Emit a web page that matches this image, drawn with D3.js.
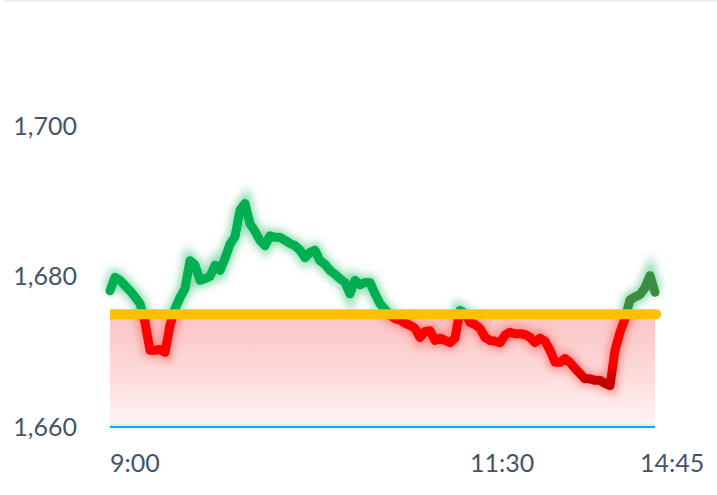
<!DOCTYPE html>
<html><head><meta charset="utf-8">
<script src="https://cdn.jsdelivr.net/npm/d3@7"></script>
<style>html,body{margin:0;padding:0;background:#fff;}svg{display:block;}</style>
</head><body>
<svg id="chart" width="717" height="495"></svg>
<script>
// ---- data ----
const prices = [1678.1,1679.9,1679.5,1678.8,1678.1,1677.3,1676.4,1673.9,1670.2,1670.2,
1670.3,1669.9,1673.5,1675.7,1677.2,1678.4,1682.1,1681.5,1679.5,1679.7,
1680.0,1681.5,1680.8,1682.4,1684.3,1685.3,1688.8,1689.7,1687.0,1686.0,
1684.8,1684.1,1685.4,1685.2,1685.2,1684.8,1684.4,1684.1,1683.5,1682.5,
1683.2,1683.5,1682.1,1681.6,1680.8,1680.3,1679.7,1679.2,1677.7,1679.5,
1678.9,1679.2,1679.2,1677.7,1676.4,1675.6,1674.9,1674.4,1674.2,1673.8,
1673.5,1673.1,1671.9,1672.7,1672.8,1671.5,1671.8,1671.5,1671.2,1671.8,
1675.5,1675.1,1673.9,1673.6,1673.1,1671.9,1671.5,1671.4,1671.2,1672.2,
1672.6,1672.4,1672.4,1672.3,1671.9,1671.2,1671.8,1671.4,1670.2,1668.6,
1668.6,1669.1,1668.6,1667.8,1667.1,1666.4,1666.4,1666.2,1666.2,1665.8,
1665.5,1670.2,1672.6,1674.4,1676.9,1677.3,1677.6,1678.5,1680.1,1677.9];
const referencePrice = 1675;
const yTicks = [1660, 1680, 1700];
const xTickLabels = ["9:00", "11:30", "14:45"];
const xTickIndex = [0, 72, 106];

// ---- layout ----
const svg = d3.select("#chart");
const left = 110, right = 655, yTop = 126, yBottom = 427;
const x = d3.scaleLinear().domain([0, prices.length - 1]).range([left, right]);
const y = d3.scaleLinear().domain([1660, 1700]).range([yBottom, yTop]);
const fmt = d3.format(",");

const defs = svg.append("defs");
const fillGrad = defs.append("linearGradient").attr("id","fillGrad")
  .attr("x1",0).attr("y1",0).attr("x2",0).attr("y2",1);
fillGrad.append("stop").attr("offset","0%").attr("stop-color","#fac4c4");
fillGrad.append("stop").attr("offset","55%").attr("stop-color","#fcdcdb");
fillGrad.append("stop").attr("offset","100%").attr("stop-color","#fef6f5");

const redGrad = defs.append("linearGradient").attr("id","redGrad")
  .attr("gradientUnits","userSpaceOnUse").attr("x1",0).attr("x2",0)
  .attr("y1", y(1668.5)).attr("y2", y(1665.8));
redGrad.append("stop").attr("offset","0%").attr("stop-color","#ff0000");
redGrad.append("stop").attr("offset","100%").attr("stop-color","#c00000");

const greenGrad = defs.append("linearGradient").attr("id","greenGrad")
  .attr("gradientUnits","userSpaceOnUse").attr("y1",0).attr("y2",0)
  .attr("x1", x(101)).attr("x2", x(103));
greenGrad.append("stop").attr("offset","0%").attr("stop-color","#00b050");
greenGrad.append("stop").attr("offset","100%").attr("stop-color","#3c8d40");

const blur = defs.append("filter").attr("id","glow")
  .attr("x","-20%").attr("y","-20%").attr("width","140%").attr("height","140%");
blur.append("feGaussianBlur").attr("stdDeviation",4.5);
const blur2 = defs.append("filter").attr("id","glow2")
  .attr("x","-5%").attr("y","-300%").attr("width","110%").attr("height","700%");
blur2.append("feGaussianBlur").attr("stdDeviation",3.5);

defs.append("clipPath").attr("id","above").append("rect")
  .attr("x",0).attr("y",0).attr("width",717).attr("height",y(referencePrice));
defs.append("clipPath").attr("id","below").append("rect")
  .attr("x",0).attr("y",y(referencePrice)).attr("width",717).attr("height",495);

// top border
svg.append("rect").attr("x",4).attr("y",0).attr("width",713).attr("height",2).attr("fill","#eeeeee");

// fill under reference
svg.append("rect").attr("x",left).attr("y",y(referencePrice))
  .attr("width",right-left).attr("height",y(1660)-y(referencePrice))
  .attr("fill","url(#fillGrad)");

// baseline
svg.append("line").attr("x1",left).attr("x2",right).attr("y1",y(1660)-2).attr("y2",y(1660)-2)
  .attr("stroke","#e4e4e4").attr("stroke-width",1.5);
svg.append("line").attr("x1",left).attr("x2",right).attr("y1",y(1660)).attr("y2",y(1660))
  .attr("stroke","#00b0f0").attr("stroke-width",2);

// line
const line = d3.line().x((d,i)=>x(i)).y(d=>y(d)).curve(d3.curveLinear);
const pathD = line(prices);

const gA = svg.append("g").attr("clip-path","url(#above)");
gA.append("path").attr("d",pathD).attr("fill","none").attr("stroke","#00b050")
  .attr("stroke-width",14).attr("stroke-opacity",0.45).attr("filter","url(#glow)");
gA.append("path").attr("d",pathD).attr("fill","none").attr("stroke","url(#greenGrad)")
  .attr("stroke-width",9).attr("stroke-linejoin","round").attr("stroke-linecap","round");

const gB = svg.append("g").attr("clip-path","url(#below)");
gB.append("path").attr("d",pathD).attr("fill","none").attr("stroke","#ff0000")
  .attr("stroke-width",14).attr("stroke-opacity",0.35).attr("filter","url(#glow)");
gB.append("path").attr("d",pathD).attr("fill","none").attr("stroke","url(#redGrad)")
  .attr("stroke-width",9).attr("stroke-linejoin","round").attr("stroke-linecap","round");

// reference line
svg.append("line").attr("x1",left).attr("x2",right).attr("y1",y(referencePrice)).attr("y2",y(referencePrice))
  .attr("stroke","#ffb000").attr("stroke-width",12).attr("stroke-opacity",0.5).attr("filter","url(#glow2)");
svg.append("line").attr("x1",left).attr("x2",right+1).attr("y1",y(referencePrice)).attr("y2",y(referencePrice))
  .attr("stroke","#ffc000").attr("stroke-width",10).attr("stroke-linecap","butt");
svg.append("circle").attr("cx",right+1).attr("cy",y(referencePrice)).attr("r",5).attr("fill","#ffc000");

// axis labels
svg.append("g").selectAll("text").data(yTicks).join("text")
  .attr("x",77).attr("y",d=>y(d)).attr("dy","0.35em").attr("text-anchor","end")
  .attr("font-family","Lato, 'Open Sans', sans-serif").attr("font-size",25).attr("fill","#44546a")
  .text(d=>fmt(d));
svg.append("g").selectAll("text").data(xTickLabels).join("text")
  .attr("x",(d,i)=>x(xTickIndex[i])).attr("y",463).attr("dy","0.35em").attr("text-anchor","start")
  .attr("font-family","Lato, 'Open Sans', sans-serif").attr("font-size",25).attr("fill","#44546a")
  .text(d=>d);
</script>
</body></html>
